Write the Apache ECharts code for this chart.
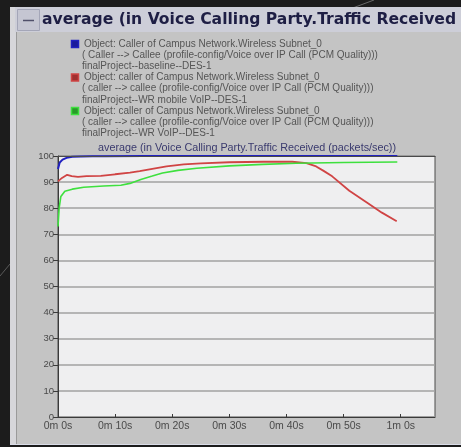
<!DOCTYPE html>
<html>
<head>
<meta charset="utf-8">
<script src="https://cdn.jsdelivr.net/npm/echarts@6/dist/echarts.min.js"></script>
<style>
  html, body { margin: 0; padding: 0; background: #1c1c1c; }
  #chart { width: 461px; height: 447px; }
</style>
</head>
<body>
<div id="chart"></div>
<script>
// chart data (time in seconds, value in packets/sec)
var xTicks = [0, 10, 20, 30, 40, 50, 60]
var yTicks = [0, 10, 20, 30, 40, 50, 60, 70, 80, 90, 100]

var blueTime = [0, 0.3, 0.8, 1.5, 2.5, 4, 6, 8, 15, 25, 35, 45, 55, 59.4]
var blueValues = [95, 97.5, 98.6, 99.3, 99.7, 99.8, 99.9, 99.9, 100, 100, 100, 100, 100, 100]

var redTime = [0, 0.7, 1.6, 2.4, 3.5, 5, 7.5, 10, 12.6, 14.3, 17, 19, 22, 25, 30, 36, 41, 43.5, 45.2, 46.5, 48, 51, 54, 56.7, 59.3]
var redValues = [90.3, 91.6, 92.8, 92.3, 92.0, 92.3, 92.4, 93.0, 93.6, 94.2, 95.3, 96.0, 96.8, 97.2, 97.6, 97.8, 97.8, 97.3, 96.0, 94.3, 92.2, 86.7, 82.3, 78.3, 75.0]

var greenTime = [0, 0.2, 0.5, 1.2, 2.5, 4.5, 8, 11, 12.6, 14.5, 16.5, 18.3, 21, 24.3, 30, 35.8, 41.7, 50, 59.4]
var greenValues = [73, 80, 84.5, 86.5, 87.3, 88, 88.5, 88.8, 89.5, 91, 92.3, 93.5, 94.5, 95.3, 96.2, 96.8, 97.2, 97.5, 97.7]

var legendLines = [
  ['Object: Caller of Campus Network.Wireless Subnet_0',
   '( Caller --> Callee (profile-config/Voice over IP Call (PCM Quality)))',
   'finalProject--baseline--DES-1'],
  ['Object: caller of Campus Network.Wireless Subnet_0',
   '( caller --> callee (profile-config/Voice over IP Call (PCM Quality)))',
   'finalProject--WR mobile VoIP--DES-1'],
  ['Object: caller of Campus Network.Wireless Subnet_0',
   '( caller --> callee (profile-config/Voice over IP Call (PCM Quality)))',
   'finalProject--WR VoIP--DES-1']
]
var colors = ['#2020c0', '#d04444', '#3ee03e']
var squareFill = ['#1a1a9a', '#a03030', '#2a9a2a']

function pairs(t, v) {
  return t.map(function (x, i) { return [x, v[i]] })
}

var chartDom = document.getElementById('chart')
var myChart = echarts.init(chartDom)
var option

// panel, title bar and legend drawn as plain graphics
var graphics = [
  { type: 'line', shape: { x1: 350, y1: 9, x2: 374, y2: 0 }, style: { stroke: '#6a6a6a', lineWidth: 1 }, z: -10 },
  { type: 'line', shape: { x1: 0, y1: 276, x2: 10, y2: 264 }, style: { stroke: '#5a5a5a', lineWidth: 1 }, z: -10 },
  { type: 'rect', shape: { x: 10, y: 7, width: 451, height: 438 }, style: { fill: '#c4c4c4' }, z: -9 },
  { type: 'rect', shape: { x: 10, y: 7, width: 6, height: 438 }, style: { fill: '#d6d6da' }, z: -8 },
  { type: 'line', shape: { x1: 16.5, y1: 32, x2: 16.5, y2: 445 }, style: { stroke: '#9a9a9a', lineWidth: 1 }, z: -8 },
  { type: 'line', shape: { x1: 10, y1: 444.5, x2: 461, y2: 444.5 }, style: { stroke: '#dadde8', lineWidth: 1 }, z: -8 },
  { type: 'rect', shape: { x: 15, y: 7, width: 446, height: 25 }, style: { fill: '#cdced8' }, z: -7 },
  { type: 'rect', shape: { x: 17.5, y: 9.5, width: 22, height: 21 }, style: { fill: '#c5c6d2', stroke: '#a4a6b8', lineWidth: 1 }, z: -6 },
  { type: 'line', shape: { x1: 23, y1: 20.5, x2: 34, y2: 20.5 }, style: { stroke: '#50506a', lineWidth: 1.5 }, z: -6 },
  { type: 'text', x: 42, y: 20, style: { text: 'average (in Voice Calling Party.Traffic Received (', fill: '#1e1e44', font: '600 15.6px "DejaVu Sans"', verticalAlign: 'middle' }, z: -6 },
  { type: 'text', x: 247, y: 148, style: { text: 'average (in Voice Calling Party.Traffic Received (packets/sec))', fill: '#3a3a6e', font: '10.8px "Liberation Sans"', align: 'center', verticalAlign: 'middle' } }
]
legendLines.forEach(function (lines, i) {
  var top = 44 + i * 33.5
  graphics.push({ type: 'rect', shape: { x: 71.5, y: top - 3.5, width: 7, height: 7 }, style: { fill: squareFill[i], stroke: colors[i], lineWidth: 1.5 } })
  lines.forEach(function (txt, j) {
    graphics.push({ type: 'text', x: j === 0 ? 84 : 82, y: top + j * 11.2, style: { text: txt, fill: '#555555', font: '10px "Liberation Sans"', verticalAlign: 'middle' } })
  })
})

option = {
  backgroundColor: '#1c1c1c',
  animation: false,
  graphic: graphics,
  grid: {
    left: 58,
    right: 26,
    top: 156,
    bottom: 30,
    show: true,
    backgroundColor: '#efeff0',
    borderColor: '#4a4a4a',
    borderWidth: 1
  },
  xAxis: [{
    type: 'value',
    min: 0,
    max: 66,
    interval: 10,
    axisLine: { show: true, lineStyle: { color: '#3a3a3a', width: 1 } },
    axisTick: { show: true, inside: true, length: 3, lineStyle: { color: '#3a3a3a' } },
    splitLine: { show: false },
    axisLabel: {
      color: '#4a4a4a',
      fontSize: 10.5,
      fontFamily: 'Liberation Sans',
      margin: 4,
      showMaxLabel: false,
      formatter: function (v) {
        if (xTicks.indexOf(v) < 0) return ''
        return Math.floor(v / 60) + 'm ' + (v % 60) + 's'
      }
    }
  }, {
    type: 'value',
    position: 'top',
    min: 0,
    max: 66,
    z: 10,
    axisLine: { show: true, lineStyle: { color: '#4a4a4a', width: 1 } },
    axisTick: { show: false },
    axisLabel: { show: false },
    splitLine: { show: false }
  }],
  yAxis: {
    type: 'value',
    min: yTicks[0],
    max: yTicks[yTicks.length - 1],
    interval: 10,
    axisLine: { show: true, lineStyle: { color: '#3a3a3a', width: 1 } },
    axisTick: { show: true, length: 5, lineStyle: { color: '#3a3a3a' } },
    splitLine: { show: true, lineStyle: { color: '#a2a2a2', width: 1.5 } },
    axisLabel: { color: '#4a4a4a', fontSize: 9.5, fontFamily: 'Liberation Sans', margin: 4 }
  },
  series: [
    {
      name: 'baseline',
      type: 'line',
      color: colors[0],
      showSymbol: false,
      lineStyle: { width: 2 },
      data: pairs(blueTime, blueValues)
    },
    {
      name: 'WR mobile VoIP',
      type: 'line',
      color: colors[1],
      showSymbol: false,
      lineStyle: { width: 1.8 },
      data: pairs(redTime, redValues)
    },
    {
      name: 'WR VoIP',
      type: 'line',
      color: colors[2],
      showSymbol: false,
      lineStyle: { width: 1.6 },
      data: pairs(greenTime, greenValues)
    }
  ]
}

option && myChart.setOption(option)
</script>
</body>
</html>
